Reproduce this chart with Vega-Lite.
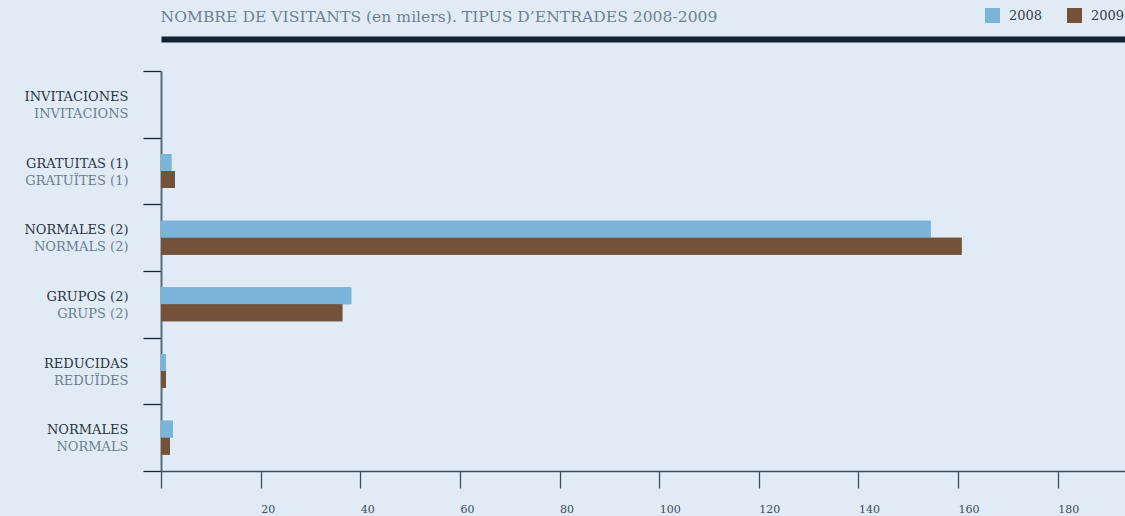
{
  "$schema": "https://vega.github.io/schema/vega-lite/v6.json",
  "width": 964,
  "height": 400,
  "autosize": "none",
  "padding": {"left": 161, "top": 71, "right": 0, "bottom": 45},
  "background": "#e0ebf6",
  "config": {"view": {"stroke": null}, "font": "DejaVu Serif"},
  "data": {
    "values": [
      {"cat": "INVITACIONES|INVITACIONS", "year": "2008", "value": 0},
      {"cat": "INVITACIONES|INVITACIONS", "year": "2009", "value": 0},
      {"cat": "GRATUITAS (1)|GRATUÏTES (1)", "year": "2008", "value": 2.1},
      {"cat": "GRATUITAS (1)|GRATUÏTES (1)", "year": "2009", "value": 2.8},
      {"cat": "NORMALES (2)|NORMALS (2)", "year": "2008", "value": 154.5},
      {"cat": "NORMALES (2)|NORMALS (2)", "year": "2009", "value": 160.7},
      {"cat": "GRUPOS (2)|GRUPS (2)", "year": "2008", "value": 38.2},
      {"cat": "GRUPOS (2)|GRUPS (2)", "year": "2009", "value": 36.4},
      {"cat": "REDUCIDAS|REDUÏDES", "year": "2008", "value": 1.0},
      {"cat": "REDUCIDAS|REDUÏDES", "year": "2009", "value": 1.0},
      {"cat": "NORMALES|NORMALS", "year": "2008", "value": 2.4},
      {"cat": "NORMALES|NORMALS", "year": "2009", "value": 1.8}
    ]
  },
  "layer": [
    {
      "mark": {"type": "bar"},
      "encoding": {
        "y": {
          "field": "cat", "type": "nominal", "sort": null,
          "scale": {"paddingInner": 0, "paddingOuter": 0},
          "axis": {
            "orient": "left", "title": null, "tickBand": "extent",
            "tickSize": 18, "tickColor": "#15232e", "tickWidth": 1.3,
            "domainColor": "#5b6b79", "domainWidth": 2,
            "labelExpr": "isString(datum.value) ? split(datum.value, '|')[0] : ''",
            "labelFont": "DejaVu Serif", "labelFontSize": 13,
            "labelColor": "#2b353e", "labelPadding": 15, "labelOffset": -8,
            "labelBaseline": "middle", "labelLimit": 0
          }
        },
        "yOffset": {"field": "year", "type": "nominal", "scale": {"paddingOuter": 0.96, "paddingInner": 0}},
        "x": {
          "field": "value", "type": "quantitative",
          "scale": {"domain": [0, 193.5], "nice": false, "zero": true},
          "axis": {
            "orient": "bottom", "title": null,
            "values": [0, 20, 40, 60, 80, 100, 120, 140, 160, 180],
            "grid": false, "tickSize": 17, "tickColor": "#3d4d5a", "tickWidth": 1.3,
            "domainColor": "#3d4d5a", "domainWidth": 1.5,
            "labelAlign": "left", "labelBaseline": "top", "labelPadding": 15,
            "labelExpr": "datum.value == 0 ? '' : datum.label",
            "labelFont": "DejaVu Serif", "labelFontSize": 11, "labelColor": "#3e4c58",
            "labelFlush": false, "labelOverlap": false
          }
        },
        "color": {
          "field": "year", "type": "nominal",
          "scale": {"domain": ["2008", "2009"], "range": ["#7ab5d9", "#735239"]},
          "legend": {
            "orient": "none", "legendX": 824, "legendY": -63, "direction": "horizontal",
            "title": null, "symbolType": "square", "symbolSize": 225, "symbolStrokeWidth": 0,
            "symbolOpacity": 1, "labelFont": "DejaVu Serif", "labelFontSize": 13,
            "labelColor": "#333d46", "columnPadding": 24, "labelOffset": 9, "padding": 0
          }
        }
      }
    },
    {
      "mark": {"type": "bar"},
      "encoding": {
        "y": {
          "field": "cat", "type": "nominal", "sort": null,
          "axis": {
            "orient": "left", "title": null, "domain": false, "ticks": false, "tickSize": 18,
            "labelExpr": "isString(datum.value) ? split(datum.value, '|')[1] : ''",
            "labelFont": "DejaVu Serif", "labelFontSize": 13,
            "labelColor": "#6c7e8f", "labelPadding": 33, "labelOffset": 9.5,
            "labelBaseline": "middle", "labelLimit": 0
          }
        },
        "yOffset": {"field": "year", "type": "nominal"},
        "x": {
          "field": "value", "type": "quantitative",
          "axis": {
            "orient": "top", "offset": 32, "title": "NOMBRE DE VISITANTS (en milers). TIPUS D’ENTRADES 2008-2009",
            "titleX": -1, "titleY": -18, "titleAlign": "left", "titleAnchor": "start",
            "titleBaseline": "alphabetic", "titleFont": "DejaVu Serif", "titleFontSize": 15.6,
            "titleFontWeight": "normal", "titleColor": "#6f8191",
            "ticks": false, "labels": false, "grid": false,
            "domainWidth": 6, "domainColor": "#13232f"
          }
        },
        "color": {"field": "year", "type": "nominal"}
      }
    }
  ],
  "resolve": {"axis": {"x": "independent", "y": "independent"}}
}
